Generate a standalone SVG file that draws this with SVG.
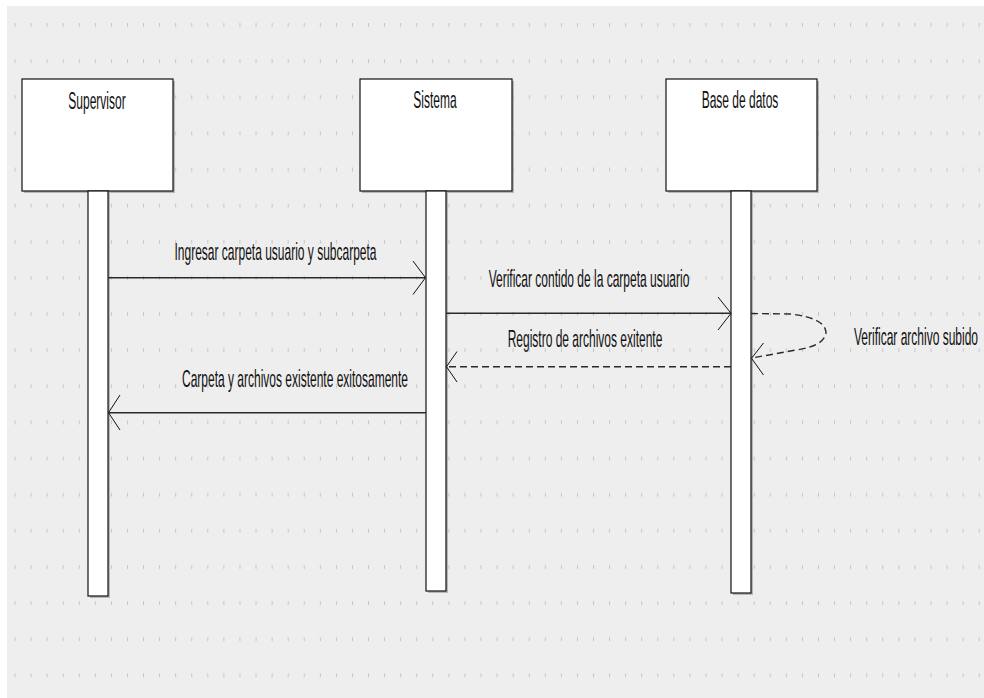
<svg xmlns="http://www.w3.org/2000/svg" width="984" height="698" viewBox="0 0 984 698">
  <defs>
    <!-- dotted canvas grid -->
    <pattern id="grid" x="14.5" y="23" width="16.07" height="36.13" patternUnits="userSpaceOnUse">
      <rect x="0" y="0" width="1" height="4" fill="#c6c6c6"/>
    </pattern>
  </defs>
  <style>
    .head { fill: #ffffff; stroke: #111111; stroke-width: 1.2; }
    .life { fill: #ffffff; stroke: #111111; stroke-width: 1.2; }
    .shadow { fill: #8a8a8a; opacity: 0.55; }
    .lbl { font-family: "Liberation Sans", Arial, sans-serif; font-size: 12px; fill: #111111; text-anchor: middle; }
    .lbl-start { text-anchor: start; }
    .msg { stroke: #2a2a2a; stroke-width: 1.6; fill: none; }
    .ret { stroke: #2a2a2a; stroke-width: 1.4; fill: none; stroke-dasharray: 7 4; }
    .tip { stroke: #111111; stroke-width: 1; fill: none; }
  </style>

  <!-- canvas -->
  <rect x="0" y="0" width="984" height="698" fill="#ffffff"/>
  <rect x="7" y="6" width="977" height="692" fill="#eeeeee"/>
  <rect x="7" y="6" width="977" height="692" fill="url(#grid)"/>

  <!-- lifeline: Supervisor -->
  <g id="supervisor">
    <rect class="shadow" x="24" y="81" width="151" height="112"/>
    <rect class="head" x="22" y="79" width="151" height="112"/>
    <text class="lbl" transform="matrix(1,0,0,2,97,108.5)">Supervisor</text>
    <rect class="shadow" x="90" y="193" width="20" height="405"/>
    <rect class="life" x="88" y="191" width="20" height="405"/>
  </g>

  <!-- lifeline: Sistema -->
  <g id="sistema">
    <rect class="shadow" x="362" y="81" width="152" height="112"/>
    <rect class="head" x="360" y="79" width="152" height="112"/>
    <text class="lbl" transform="matrix(1,0,0,2,435,108)">Sistema</text>
    <rect class="shadow" x="428" y="193" width="20" height="400"/>
    <rect class="life" x="426" y="191" width="20" height="400"/>
  </g>

  <!-- lifeline: Base de datos -->
  <g id="base-datos">
    <rect class="shadow" x="668" y="81" width="151" height="112"/>
    <rect class="head" x="666" y="79" width="151" height="112"/>
    <text class="lbl" transform="matrix(1,0,0,2,740,108)">Base de datos</text>
    <rect class="shadow" x="733" y="193" width="20" height="402"/>
    <rect class="life" x="731" y="191" width="20" height="402"/>
  </g>

  <!-- messages -->
  <g id="connectors">
    <!-- 1: Supervisor -> Sistema -->
    <line class="msg" x1="108" y1="277.7" x2="425" y2="277.7"/>
    <polyline class="tip" points="413,261 425.5,277.7 413,294.5"/>
    <text class="lbl" transform="matrix(1,0,0,2,275.5,260)">Ingresar carpeta usuario y subcarpeta</text>

    <!-- 2: Sistema -> Base de datos -->
    <line class="msg" x1="446" y1="313.3" x2="730.5" y2="313.3"/>
    <polyline class="tip" points="718,297 731,313.3 718,330"/>
    <text class="lbl" transform="matrix(1,0,0,2,589,287)">Verificar contido de la carpeta usuario</text>

    <!-- self call on Base de datos -->
    <path class="ret" d="M751,313.5 L790,314 Q826,318 826,333 Q824,346 796,350 L752,358"/>
    <polyline class="tip" points="763.5,343 751.5,358.3 763.5,375"/>
    <text class="lbl lbl-start" transform="matrix(1,0,0,2,854,345)">Verificar archivo subido</text>

    <!-- 3: Base de datos -> Sistema (return) -->
    <line class="ret" x1="731" y1="366.7" x2="447" y2="366.7"/>
    <polyline class="tip" points="457,351.5 446.5,366.7 457,382"/>
    <text class="lbl" transform="matrix(1,0,0,2,585,347)">Registro de archivos exitente</text>

    <!-- 4: Sistema -> Supervisor -->
    <line class="msg" x1="426" y1="412.7" x2="108.5" y2="412.7"/>
    <polyline class="tip" points="120,395 108.5,412.7 120,430"/>
    <text class="lbl" transform="matrix(1,0,0,2,295,386.7)">Carpeta y archivos existente exitosamente</text>
  </g>
</svg>
